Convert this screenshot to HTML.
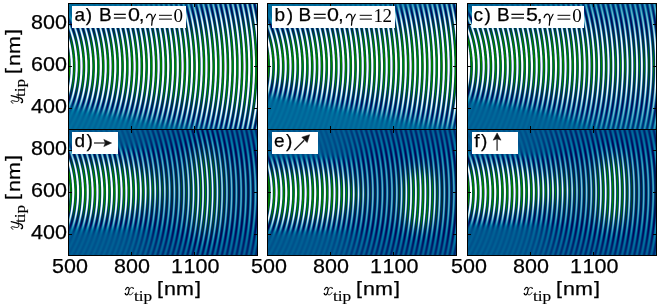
<!DOCTYPE html>
<html><head><meta charset="utf-8">
<style>
html,body{margin:0;padding:0;background:#fff;}
body{width:660px;height:307px;overflow:hidden;position:relative;font-family:"Liberation Sans",sans-serif;color:#000;}
.pn{position:absolute;width:188px;height:125px;background:#0a5c96;}
.pn canvas{position:absolute;left:0;top:0;width:188px;height:125px;}
svg.ov{position:absolute;left:0;top:0;}
.t{position:absolute;white-space:nowrap;font-size:19px;line-height:19px;-webkit-text-stroke:0.25px #000;}
.r{font-family:"Liberation Serif",serif;-webkit-text-stroke:0;}
.sx{transform:scaleX(1.13);transform-origin:0 0;}
.tl{font-size:20px;line-height:20px;transform:scaleX(1.075);transform-origin:0 0;}
.sub{-webkit-text-stroke:0.15px #000;font-family:"Liberation Serif",serif;font-size:15px;line-height:15px;transform:scaleX(1.15);transform-origin:0 0;}
.g{font-family:"Liberation Serif",serif;font-style:italic;transform:scaleX(1.3);transform-origin:0 0;}
.yt{position:absolute;width:0;height:0;transform:rotate(-90deg);transform-origin:0 0;}
</style></head><body>
<div class="pn" style="left:69px;top:4px;background:linear-gradient(#126899 2px,#1e618c 7px,#2e648b 12px,#3f6f90 17px,#508099 22px,#5a8a94 27px,#609590 32px,#669e8c 37px,#69a38a 42px,#6ca787 47px,#6eaa86 52px,#6fac86 57px,#6fab86 62px,#6da987 67px,#6ba688 72px,#68a28a 77px,#649b8d 82px,#5f9391 87px,#578795 92px,#4c7c99 97px,#3e749b 102px,#2c6e9b 107px,#1c6b9b 112px,#0f699b 117px,#07699b 122px)"><canvas id="ca" width="188" height="125"></canvas></div>
<div class="pn" style="left:268px;top:4px;background:linear-gradient(#126898 2px,#1d5f8a 7px,#2e658c 12px,#3e6d8d 17px,#528198 22px,#5c8d94 27px,#62988f 32px,#68a08c 37px,#6ba589 42px,#6da887 47px,#6fab86 52px,#6fac85 57px,#6eaa86 62px,#6ba687 67px,#68a289 72px,#649c8c 77px,#5f9291 82px,#578796 87px,#4a7b99 92px,#3a739b 97px,#276d9b 102px,#186a9b 107px,#0c699b 112px,#04699b 117px,#00699b 122px)"><canvas id="cb" width="188" height="125"></canvas></div>
<div class="pn" style="left:468px;top:4px;background:linear-gradient(#056093 2px,#0c5888 7px,#185887 12px,#265e8b 17px,#376e96 22px,#437895 27px,#4c8191 32px,#558a90 37px,#5b918e 42px,#60968c 47px,#629a8b 52px,#649c8a 57px,#629b8a 62px,#5f968c 67px,#5b908e 72px,#558891 77px,#4c7d94 82px,#3f7296 87px,#306896 92px,#216396 97px,#156296 102px,#0c6296 107px,#076196 112px,#046296 117px,#026296 122px)"><canvas id="cc" width="188" height="125"></canvas></div>
<div class="pn" style="left:69px;top:130px;background:linear-gradient(#00538c 2px,#005087 7px,#025187 12px,#085389 17px,#16588c 22px,#225d8c 27px,#2e678c 32px,#39718b 37px,#407a88 42px,#458086 47px,#488485 52px,#4b8785 57px,#4a8685 62px,#478286 67px,#437d87 72px,#3d7689 77px,#356d8b 82px,#2b648c 87px,#1e5b8c 92px,#10588c 97px,#05568c 102px,#02548c 107px,#01538c 112px,#00538c 117px,#00538c 122px)"><canvas id="cd" width="188" height="125"></canvas></div>
<div class="pn" style="left:268px;top:130px;background:linear-gradient(#00548d 2px,#005289 7px,#005187 12px,#00528a 17px,#01558d 22px,#08568d 27px,#17588d 32px,#26608d 37px,#346b8d 42px,#3e778a 47px,#458087 52px,#4a8686 57px,#4d8a85 62px,#4d8985 67px,#4b8686 72px,#468188 77px,#40798a 82px,#366e8c 87px,#27618d 92px,#175a8d 97px,#07578d 102px,#01558d 107px,#00548d 112px,#00548d 117px,#00558d 122px)"><canvas id="ce" width="188" height="125"></canvas></div>
<div class="pn" style="left:468px;top:130px;background:linear-gradient(#00538c 2px,#005189 7px,#005289 12px,#02538a 17px,#06568c 22px,#155a8d 27px,#24608d 32px,#336b8c 37px,#3e778b 42px,#468089 47px,#4b8687 52px,#4e8a85 57px,#4e8a85 62px,#4b8686 67px,#468088 72px,#3e778b 77px,#346c8d 82px,#25608d 87px,#155a8d 92px,#07578d 97px,#02558d 102px,#00548d 107px,#00548d 112px,#00548d 117px,#00548d 122px)"><canvas id="cf" width="188" height="125"></canvas></div>
<svg class="ov" width="660" height="307" viewBox="0 0 660 307">
<rect x="68.5" y="3.5" width="189" height="126" fill="none" stroke="#000" stroke-width="1"/>
<rect x="267.5" y="3.5" width="189" height="126" fill="none" stroke="#000" stroke-width="1"/>
<rect x="467.5" y="3.5" width="189" height="126" fill="none" stroke="#000" stroke-width="1"/>
<rect x="68.5" y="129.5" width="189" height="126" fill="none" stroke="#000" stroke-width="1"/>
<rect x="267.5" y="129.5" width="189" height="126" fill="none" stroke="#000" stroke-width="1"/>
<rect x="467.5" y="129.5" width="189" height="126" fill="none" stroke="#000" stroke-width="1"/>
<path d="M68.5 24.5h3.5M257.5 24.5h-3.5" stroke="#000" stroke-width="1"/>
<path d="M68.5 66.5h3.5M257.5 66.5h-3.5" stroke="#000" stroke-width="1"/>
<path d="M68.5 108.5h3.5M257.5 108.5h-3.5" stroke="#000" stroke-width="1"/>
<path d="M131.5 3.5v3.5M131.5 129.5v-3.5" stroke="#000" stroke-width="1"/>
<path d="M194.5 3.5v3.5M194.5 129.5v-3.5" stroke="#000" stroke-width="1"/>
<path d="M267.5 24.5h3.5M456.5 24.5h-3.5" stroke="#000" stroke-width="1"/>
<path d="M267.5 66.5h3.5M456.5 66.5h-3.5" stroke="#000" stroke-width="1"/>
<path d="M267.5 108.5h3.5M456.5 108.5h-3.5" stroke="#000" stroke-width="1"/>
<path d="M330.5 3.5v3.5M330.5 129.5v-3.5" stroke="#000" stroke-width="1"/>
<path d="M393.5 3.5v3.5M393.5 129.5v-3.5" stroke="#000" stroke-width="1"/>
<path d="M467.5 24.5h3.5M656.5 24.5h-3.5" stroke="#000" stroke-width="1"/>
<path d="M467.5 66.5h3.5M656.5 66.5h-3.5" stroke="#000" stroke-width="1"/>
<path d="M467.5 108.5h3.5M656.5 108.5h-3.5" stroke="#000" stroke-width="1"/>
<path d="M530.5 3.5v3.5M530.5 129.5v-3.5" stroke="#000" stroke-width="1"/>
<path d="M593.5 3.5v3.5M593.5 129.5v-3.5" stroke="#000" stroke-width="1"/>
<path d="M68.5 150.5h3.5M257.5 150.5h-3.5" stroke="#000" stroke-width="1"/>
<path d="M68.5 192.5h3.5M257.5 192.5h-3.5" stroke="#000" stroke-width="1"/>
<path d="M68.5 234.5h3.5M257.5 234.5h-3.5" stroke="#000" stroke-width="1"/>
<path d="M131.5 129.5v3.5M131.5 255.5v-3.5" stroke="#000" stroke-width="1"/>
<path d="M194.5 129.5v3.5M194.5 255.5v-3.5" stroke="#000" stroke-width="1"/>
<path d="M267.5 150.5h3.5M456.5 150.5h-3.5" stroke="#000" stroke-width="1"/>
<path d="M267.5 192.5h3.5M456.5 192.5h-3.5" stroke="#000" stroke-width="1"/>
<path d="M267.5 234.5h3.5M456.5 234.5h-3.5" stroke="#000" stroke-width="1"/>
<path d="M330.5 129.5v3.5M330.5 255.5v-3.5" stroke="#000" stroke-width="1"/>
<path d="M393.5 129.5v3.5M393.5 255.5v-3.5" stroke="#000" stroke-width="1"/>
<path d="M467.5 150.5h3.5M656.5 150.5h-3.5" stroke="#000" stroke-width="1"/>
<path d="M467.5 192.5h3.5M656.5 192.5h-3.5" stroke="#000" stroke-width="1"/>
<path d="M467.5 234.5h3.5M656.5 234.5h-3.5" stroke="#000" stroke-width="1"/>
<path d="M530.5 129.5v3.5M530.5 255.5v-3.5" stroke="#000" stroke-width="1"/>
<path d="M593.5 129.5v3.5M593.5 255.5v-3.5" stroke="#000" stroke-width="1"/>
<rect x="72" y="6" width="114" height="22" fill="#fff"/>
<rect x="272" y="6" width="123" height="22" fill="#fff"/>
<rect x="472" y="6" width="112" height="22" fill="#fff"/>
<rect x="72" y="132" width="46" height="22" fill="#fff"/>
<rect x="272" y="132" width="46" height="22" fill="#fff"/>
<rect x="472" y="132" width="46" height="22" fill="#fff"/>
<rect x="113.9" y="13.7" width="11.9" height="1.3" fill="#111"/>
<rect x="113.9" y="17.4" width="11.9" height="1.3" fill="#111"/>
<rect x="159" y="14.8" width="12.9" height="1.1" fill="#222"/>
<rect x="159" y="18.6" width="12.9" height="1.1" fill="#222"/>
<rect x="313.8" y="13.7" width="11.9" height="1.3" fill="#111"/>
<rect x="313.8" y="17.4" width="11.9" height="1.3" fill="#111"/>
<rect x="359.7" y="14.8" width="12.2" height="1.1" fill="#222"/>
<rect x="359.7" y="18.6" width="12.2" height="1.1" fill="#222"/>
<rect x="511.4" y="13.7" width="12.6" height="1.3" fill="#111"/>
<rect x="511.4" y="17.4" width="12.6" height="1.3" fill="#111"/>
<rect x="557.5" y="14.8" width="12.8" height="1.1" fill="#222"/>
<rect x="557.5" y="18.6" width="12.8" height="1.1" fill="#222"/>
<g transform="translate(0,0)" fill="none" stroke="#000" stroke-linecap="round"><path d="M146.5 17.6C147.1 15.2 148.6 14 150 14.1C151.6 14.3 152.2 16.3 152.3 19.2L151.7 25.2" stroke-width="1.25"/><path d="M155.5 14.3L152.3 20.6" stroke-width="1.1"/></g>
<g transform="translate(199.8,0)" fill="none" stroke="#000" stroke-linecap="round"><path d="M146.5 17.6C147.1 15.2 148.6 14 150 14.1C151.6 14.3 152.2 16.3 152.3 19.2L151.7 25.2" stroke-width="1.25"/><path d="M155.5 14.3L152.3 20.6" stroke-width="1.1"/></g>
<g transform="translate(397.6,0)" fill="none" stroke="#000" stroke-linecap="round"><path d="M146.5 17.6C147.1 15.2 148.6 14 150 14.1C151.6 14.3 152.2 16.3 152.3 19.2L151.7 25.2" stroke-width="1.25"/><path d="M155.5 14.3L152.3 20.6" stroke-width="1.1"/></g>
<g transform="translate(0,0)" fill="none" stroke="#000" stroke-linecap="round"><path d="M125.6 289.7C126.1 288.1 127.3 287.3 128.3 287.5C129.3 287.7 129.3 288.8 129.1 289.8L128.5 292.6C128.3 293.8 127.6 294.8 126.6 294.8C125.9 294.8 125.4 294.4 125.3 293.9" stroke-width="1.15"/><path d="M133.2 288.1C132.9 287.5 132.3 287.3 131.7 287.4C130.5 287.6 129.6 288.7 129.2 289.6" stroke-width="0.9"/><path d="M128.4 292.8C128.6 294.3 129.4 294.9 130.3 294.8C131.5 294.7 132.4 293.7 132.9 292.7" stroke-width="0.9"/><circle cx="133.2" cy="288.3" r="0.75" fill="#000" stroke="none"/><circle cx="125.4" cy="293.6" r="0.75" fill="#000" stroke="none"/></g>
<g transform="translate(199,0)" fill="none" stroke="#000" stroke-linecap="round"><path d="M125.6 289.7C126.1 288.1 127.3 287.3 128.3 287.5C129.3 287.7 129.3 288.8 129.1 289.8L128.5 292.6C128.3 293.8 127.6 294.8 126.6 294.8C125.9 294.8 125.4 294.4 125.3 293.9" stroke-width="1.15"/><path d="M133.2 288.1C132.9 287.5 132.3 287.3 131.7 287.4C130.5 287.6 129.6 288.7 129.2 289.6" stroke-width="0.9"/><path d="M128.4 292.8C128.6 294.3 129.4 294.9 130.3 294.8C131.5 294.7 132.4 293.7 132.9 292.7" stroke-width="0.9"/><circle cx="133.2" cy="288.3" r="0.75" fill="#000" stroke="none"/><circle cx="125.4" cy="293.6" r="0.75" fill="#000" stroke="none"/></g>
<g transform="translate(399,0)" fill="none" stroke="#000" stroke-linecap="round"><path d="M125.6 289.7C126.1 288.1 127.3 287.3 128.3 287.5C129.3 287.7 129.3 288.8 129.1 289.8L128.5 292.6C128.3 293.8 127.6 294.8 126.6 294.8C125.9 294.8 125.4 294.4 125.3 293.9" stroke-width="1.15"/><path d="M133.2 288.1C132.9 287.5 132.3 287.3 131.7 287.4C130.5 287.6 129.6 288.7 129.2 289.6" stroke-width="0.9"/><path d="M128.4 292.8C128.6 294.3 129.4 294.9 130.3 294.8C131.5 294.7 132.4 293.7 132.9 292.7" stroke-width="0.9"/><circle cx="133.2" cy="288.3" r="0.75" fill="#000" stroke="none"/><circle cx="125.4" cy="293.6" r="0.75" fill="#000" stroke="none"/></g>
<g transform="translate(0,105) rotate(-90)" fill="none" stroke="#000" stroke-linecap="round"><path d="M1.8 12.9C2.2 11.8 2.9 11.1 3.6 11.2C4.4 11.3 4.5 12.3 4.2 13.3L3.6 15.6C3.3 17 3.6 18.9 5.2 18.9C6.3 18.9 7.3 17.9 7.8 16.6" stroke-width="1.0"/><path d="M9.3 11.2L7.1 19.8C6.6 21.6 5.4 22.6 4.1 22.6C3.2 22.6 2.6 22.2 2.3 21.7" stroke-width="1.2"/><circle cx="2.6" cy="21.4" r="0.8" fill="#000" stroke="none"/></g>
<g transform="translate(0,231) rotate(-90)" fill="none" stroke="#000" stroke-linecap="round"><path d="M1.8 12.9C2.2 11.8 2.9 11.1 3.6 11.2C4.4 11.3 4.5 12.3 4.2 13.3L3.6 15.6C3.3 17 3.6 18.9 5.2 18.9C6.3 18.9 7.3 17.9 7.8 16.6" stroke-width="1.0"/><path d="M9.3 11.2L7.1 19.8C6.6 21.6 5.4 22.6 4.1 22.6C3.2 22.6 2.6 22.2 2.3 21.7" stroke-width="1.2"/><circle cx="2.6" cy="21.4" r="0.8" fill="#000" stroke="none"/></g>
<path d="M94 143H105" stroke="#4a4a4a" stroke-width="1.5"/>
<path d="M111.6 143L103.8 139.4L105.3 143L103.8 146.6Z" fill="#111" stroke="#111" stroke-width="0.5" stroke-linejoin="round"/>
<path d="M294.2 150.3L304.2 140.3" stroke="#222" stroke-width="1.4"/>
<path d="M309.6 134.7L301.8 137.2L304.6 140.1L307.2 142.6Z" fill="#111" stroke="#111" stroke-width="0.5" stroke-linejoin="round"/>
<path d="M497.1 150.8V139" stroke="#555" stroke-width="1.6"/>
<path d="M497.1 132.9L493.2 140.2L497.1 138.7L501 140.2Z" fill="#111" stroke="#111" stroke-width="0.5" stroke-linejoin="round"/>
</svg>
<span class="t " style="left:74.45px;top:5.4px">a</span>
<span class="t " style="left:85.8px;top:5.4px">)</span>
<span class="t " style="left:98.9px;top:5.4px">B</span>
<span class="t sx" style="left:127.7px;top:5.4px">0</span>
<span class="t " style="left:139px;top:5.4px">,</span>
<span class="t r" style="left:173.4px;top:6px">0</span>
<span class="t " style="left:274.4px;top:5.4px">b</span>
<span class="t " style="left:286.7px;top:5.4px">)</span>
<span class="t " style="left:298.5px;top:5.4px">B</span>
<span class="t sx" style="left:327.3px;top:5.4px">0</span>
<span class="t " style="left:338.3px;top:5.4px">,</span>
<span class="t r" style="left:373.6px;top:6px">1</span>
<span class="t r" style="left:382.6px;top:6px">2</span>
<span class="t " style="left:473.5px;top:5.4px">c</span>
<span class="t " style="left:484.5px;top:5.4px">)</span>
<span class="t " style="left:496.9px;top:5.4px">B</span>
<span class="t sx" style="left:525.9px;top:5.4px">5</span>
<span class="t " style="left:536.9px;top:5.4px">,</span>
<span class="t r" style="left:572.3px;top:6px">0</span>
<span class="t " style="left:74.5px;top:131px">d</span>
<span class="t " style="left:86.4px;top:131px">)</span>
<span class="t " style="left:273.9px;top:131px">e</span>
<span class="t " style="left:286px;top:131px">)</span>
<span class="t " style="left:474.2px;top:131px">f</span>
<span class="t " style="left:480.9px;top:131px">)</span>
<span class="t tl" style="left:31.1px;top:12.2px">800</span>
<span class="t tl" style="left:31.1px;top:54.2px">600</span>
<span class="t tl" style="left:31.1px;top:96.2px">400</span>
<span class="t tl" style="left:31.1px;top:138.2px">800</span>
<span class="t tl" style="left:31.1px;top:180.2px">600</span>
<span class="t tl" style="left:31.1px;top:222.2px">400</span>
<span class="t tl" style="left:51.8px;top:256.2px">500</span>
<span class="t tl" style="left:114.2px;top:256.2px">800</span>
<span class="t tl" style="left:171.3px;top:256.2px"><span style="letter-spacing:0.6px">1</span>100</span>
<span class="t tl" style="left:250.8px;top:256.2px">500</span>
<span class="t tl" style="left:313.2px;top:256.2px">800</span>
<span class="t tl" style="left:370.3px;top:256.2px"><span style="letter-spacing:0.6px">1</span>100</span>
<span class="t tl" style="left:450.8px;top:256.2px">500</span>
<span class="t tl" style="left:513.2px;top:256.2px">800</span>
<span class="t tl" style="left:570.3px;top:256.2px"><span style="letter-spacing:0.6px">1</span>100</span>
<span class="t sub" style="left:134px;top:288.5px">tip</span>
<span class="t sx" style="left:157px;top:278px">[</span>
<span class="t sx" style="left:164px;top:279px">nm</span>
<span class="t sx" style="left:195px;top:278px">]</span>
<span class="t sub" style="left:333px;top:288.5px">tip</span>
<span class="t sx" style="left:356px;top:278px">[</span>
<span class="t sx" style="left:363px;top:279px">nm</span>
<span class="t sx" style="left:394px;top:278px">]</span>
<span class="t sub" style="left:533px;top:288.5px">tip</span>
<span class="t sx" style="left:556px;top:278px">[</span>
<span class="t sx" style="left:563px;top:279px">nm</span>
<span class="t sx" style="left:594px;top:278px">]</span>
<div class="yt" style="left:0px;top:105px"><span class="t sub" style="left:7.5px;top:13px">tip</span><span class="t sx" style="left:31px;top:2px">[</span><span class="t sx" style="left:39px;top:4px">nm</span><span class="t sx" style="left:70px;top:2px">]</span></div>
<div class="yt" style="left:0px;top:231px"><span class="t sub" style="left:7.5px;top:13px">tip</span><span class="t sx" style="left:31px;top:2px">[</span><span class="t sx" style="left:39px;top:4px">nm</span><span class="t sx" style="left:70px;top:2px">]</span></div>
<script>
function ocean(v){
  if(v<0)v=0;if(v>1)v=1;
  var r=3*v-2; if(r<0)r=0;
  var g=Math.abs((3*v-1)/2); if(g>1)g=1;
  return [r*255,g*255,v*255];
}
function draw(id, col0, row0, f, opt){
  var c=document.getElementById(id), ctx=c.getContext('2d');
  var W=188,H=125, im=ctx.createImageData(W,H), d=im.data;
  var P=opt.P||22.864, x0=opt.x0||0, y0=opt.y0||600, ph=opt.ph||0;
  var S=3;
  for(var j=0;j<H;j++){for(var i=0;i<W;i++){
    var R=0,G=0,B=0;
    for(var sj=0;sj<S;sj++)for(var si=0;si<S;si++){
      var px=col0+1+i+(si+0.5)/S, py=row0+1+j+(sj+0.5)/S;
      var x=500+(px-(col0+0.5))/0.21, y=900-(py-(row0+0.5))/0.21;
      var r=Math.sqrt((x-x0)*(x-x0)+(y-y0)*(y-y0));
      var e=f(x,y);
      var v=e[0]+e[1]*Math.cos(2*Math.PI*(r/P+5.5e-7*(r-900)*(r-900))+ph);
      var cc=ocean(v); R+=cc[0];G+=cc[1];B+=cc[2];
    }
    var k=(j*W+i)*4; d[k]=R/(S*S);d[k+1]=G/(S*S);d[k+2]=B/(S*S);d[k+3]=255;
  }}
  ctx.putImageData(im,0,0);
}
function gs(t,p){return Math.exp(-Math.pow(Math.abs(t),p));}
function sig(t){return 1/(1+Math.exp(-t));}
// a, b: B=0
function prof(u){return Math.exp(-Math.pow(u/132.5,1.33))/(1+Math.exp((u-215)/12));}
function sg(t){return 1/(1+Math.exp(-t));}
function fa(x,y){var s=1+(x-520)*0.00075;return [0.61, 0.015+1.25*prof(Math.abs(y-615+0.02*(x-500))/s)];}
function fb(x,y){var s=0.85*(1+(x-520)*0.00085);return [0.61, 0.015+1.25*prof(Math.abs(y-637+0.027*(x-500))/s)];}
draw('ca',68,3,fa,{ph:2.29});
draw('cb',267,3,fb,{ph:1.85});
// c: B=5 beam decays along x, bends upward near source
function fc(x,y){var yc=648-0.055*(x-500); if(yc<612)yc=612; var s=0.975+0.00045*(x-500)+0.35/(1+Math.exp(-(x-1050)/80));
  var E=0.58+0.69/(1+Math.exp((x-1060)/90));
  var u=Math.abs(y-yc)/s;
  return [0.59, 0.015+E*prof(u)];}
draw('cc',467,3,fc,{ph:4.48});
// d
function fd(x,y){
  var E1=0.9*sg(-(x-815)/50)+0.3*sg(-(x-950)/50);
  var R=sg((x-860)/50);
  var E2=(0.22+0.3*Math.exp(-Math.pow((x-1150)/90,2)))*R;
  var m=0.565-0.05*R;
  return [m, 0.02+0.04*R+E1*prof(Math.abs(y-619)/0.92)+E2*Math.exp(-Math.pow(Math.abs(y-610)/230,2.5))];}
draw('cd',68,129,fd,{ph:0.4});
function fe(x,y){
  var E1=0.95*sg(-(x-850)/45)+0.25*sg(-(x-950)/40);
  var R=sg((x-900)/50);
  var E2=0.22*R;
  var L2=0.52*Math.exp(-Math.pow((x-1225)/80,2))*Math.exp(-Math.pow(Math.abs(y-567)/130,2.5));
  var m=0.565-0.05*R;
  return [m, 0.02+0.04*R+E1*prof(Math.abs(y-590)/0.84)+L2+E2*Math.exp(-Math.pow(Math.abs(y-600)/230,2.5))];}
draw('ce',267,129,fe,{ph:1.1});
function ff(x,y){
  var E1=0.82*sg(-(x-800)/40)+0.38*sg(-(x-990)/35);
  var R=sg((x-880)/50);
  var E2=0.22*R;
  var L2=0.4*Math.exp(-Math.pow((x-1190)/85,2))*Math.exp(-Math.pow(Math.abs(y-610)/160,2.5));
  var m=0.565-0.05*R;
  return [m, 0.02+0.04*R+E1*prof(Math.abs(y-612)/0.8)+L2+E2*Math.exp(-Math.pow(Math.abs(y-610)/230,2.5))];}
draw('cf',467,129,ff,{ph:2.0});

</script>
</body></html>
